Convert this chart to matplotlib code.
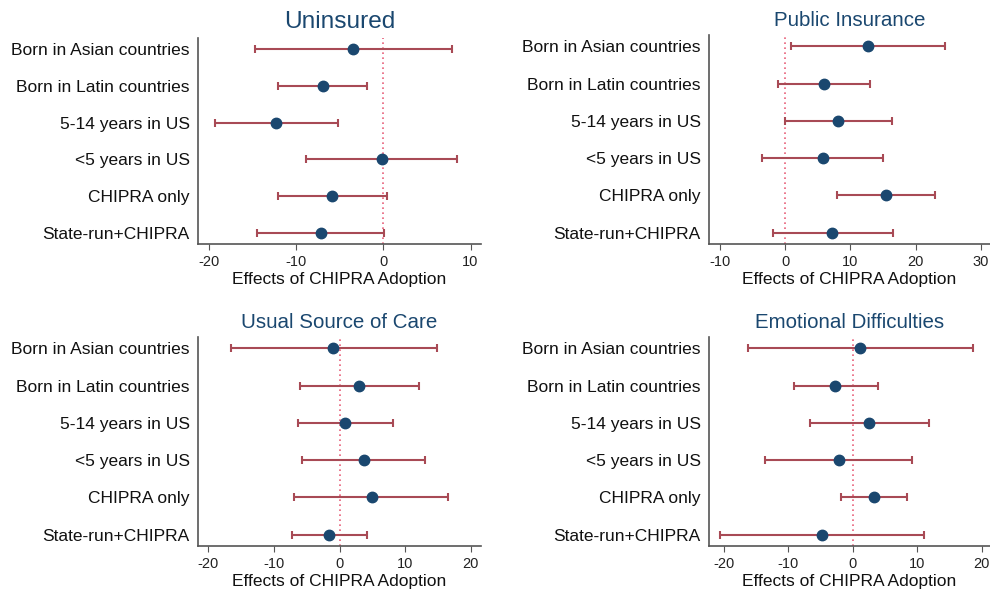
import matplotlib
matplotlib.use("Agg")
import matplotlib.pyplot as plt
import numpy as np

plt.rcParams['font.family'] = ['Liberation Sans', 'DejaVu Sans']

categories = ["Born in Asian countries", "Born in Latin countries", "5-14 years in US",
              "<5 years in US", "CHIPRA only", "State-run+CHIPRA"]

titles = ["Uninsured", "Public Insurance", "Usual Source of Care", "Emotional Difficulties"]

uninsured_est = [-3.5, -7.0, -12.3, -0.15, -5.9, -7.2]
uninsured_lo = [-14.8, -12.1, -19.4, -8.85, -12.1, -14.5]
uninsured_hi = [7.9, -1.85, -5.2, 8.5, 0.4, 0.05]

public_est = [12.76, 5.87, 8.16, 5.77, 15.46, 7.24]
public_lo = [0.92, -1.17, 0.0, -3.52, 8.0, -1.94]
public_hi = [24.5, 12.96, 16.4, 14.95, 22.9, 16.5]

usual_est = [-0.92, 3.0, 0.87, 3.7, 4.9, -1.6]
usual_lo = [-16.6, -6.1, -6.4, -5.8, -6.9, -7.2]
usual_hi = [14.85, 12.2, 8.2, 13.1, 16.6, 4.2]

emot_est = [1.2, -2.75, 2.5, -2.2, 3.3, -4.8]
emot_lo = [-16.3, -9.1, -6.7, -13.6, -1.8, -20.6]
emot_hi = [18.65, 3.9, 11.8, 9.2, 8.4, 11.1]

xticks_list = [[-20, -10, 0, 10], [-10, 0, 10, 20, 30], [-20, -10, 0, 10, 20], [-20, -10, 0, 10, 20]]
xlims = [(-21.3, 11.2), (-11.7, 31.4), (-21.6, 21.6), (-22.3, 21.3)]

W, H = 990, 591
fig = plt.figure(figsize=(W / 100, H / 100), dpi=100)

# axes rects in pixels: left, right, top, bottom
rects = [(198, 481, 38, 244), (709, 990, 35, 244), (198, 481, 337, 546), (709, 990, 337, 546)]
title_sizes = [17.6, 14.8, 14.8, 14.8]
title_y = [22, 21, 322, 322]

data = [(uninsured_est, uninsured_lo, uninsured_hi), (public_est, public_lo, public_hi),
        (usual_est, usual_lo, usual_hi), (emot_est, emot_lo, emot_hi)]

navy = '#1a476f'
maroon = '#a84a55'
axcol = '#555555'

for i, (rect, (est, lo, hi)) in enumerate(zip(rects, data)):
    l, r, t, b = rect
    ax = fig.add_axes([l / W, 1 - b / H, (r - l) / W, (b - t) / H])
    y = np.arange(len(categories))
    est = np.array(est); lo = np.array(lo); hi = np.array(hi)
    ax.axvline(0, color='#e8607a', linestyle=(0, (1, 2)), linewidth=1.2, zorder=1)
    ax.errorbar(est, y, xerr=[est - lo, hi - est], fmt='none', ecolor=maroon,
                elinewidth=1.5, capsize=3, capthick=1.5, zorder=2)
    ax.plot(est, y, 'o', color=navy, markersize=7.5, zorder=3)
    ax.set_ylim(5.3, -0.3)
    ax.set_xlim(*xlims[i])
    ax.set_yticks(y)
    ax.set_yticklabels(categories, fontsize=12.5, color='#111111')
    ax.tick_params(axis='y', length=0, pad=6)
    ax.set_xticks(xticks_list[i])
    ax.set_xticklabels([str(v) for v in xticks_list[i]], fontsize=10.5, color='#222222')
    ax.tick_params(axis='x', length=4, color=axcol, direction='out', pad=4)
    ax.set_xlabel("Effects of CHIPRA Adoption", fontsize=12.5, color='#111111', labelpad=2)
    for s in ['top', 'right']:
        ax.spines[s].set_visible(False)
    for s in ['left', 'bottom']:
        ax.spines[s].set_color(axcol)
        ax.spines[s].set_linewidth(1.2)
    ax.patch.set_alpha(0)
    cx = (l + r) / 2 / W
    fig.text(cx, 1 - title_y[i] / H, titles[i], ha='center', va='center',
             fontsize=title_sizes[i], color=navy)

fig.savefig("out.png", dpi=100, facecolor='white')
